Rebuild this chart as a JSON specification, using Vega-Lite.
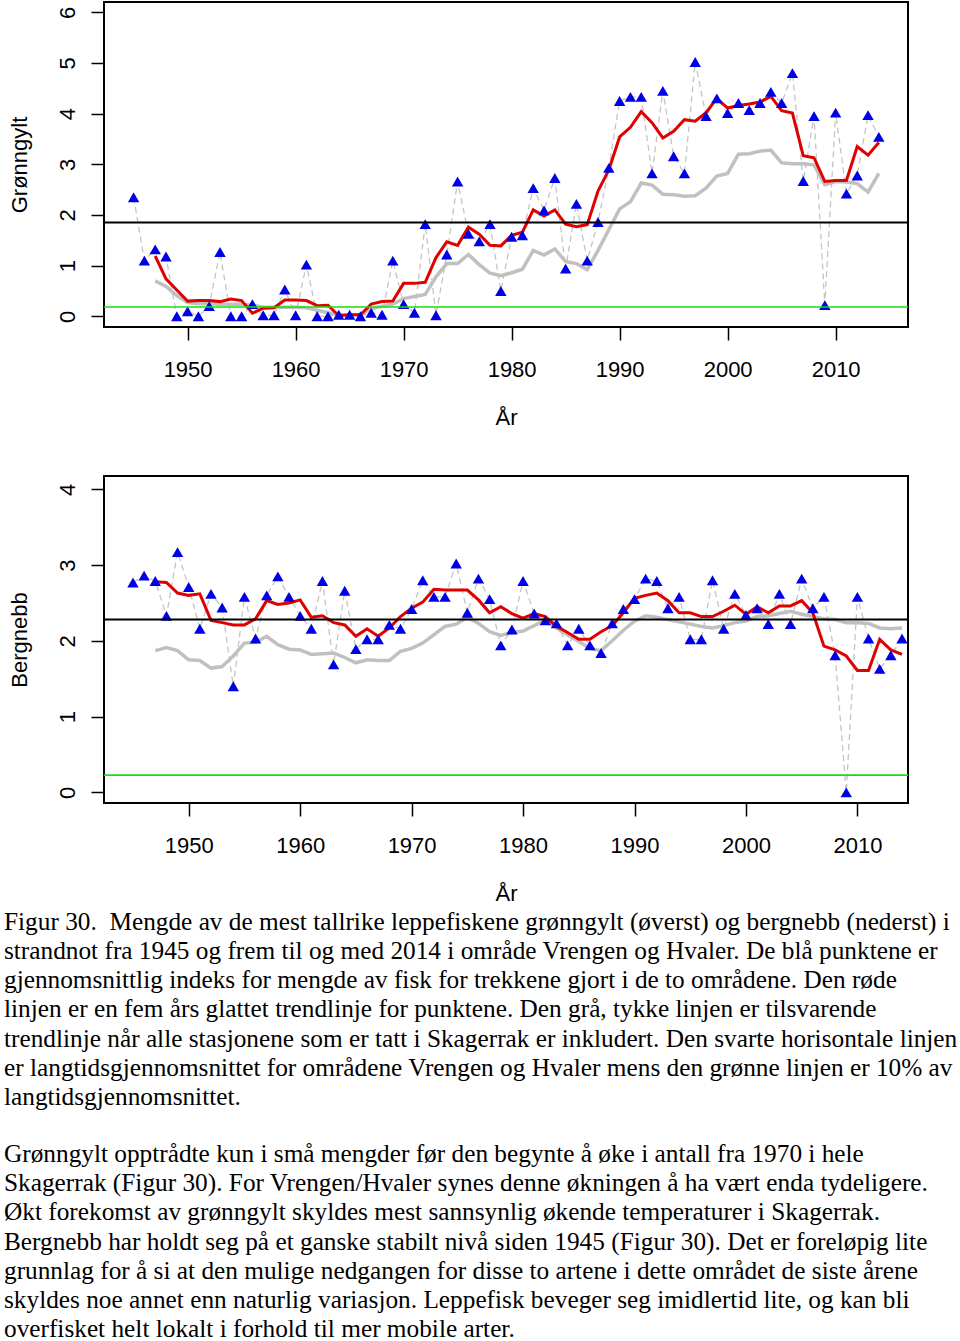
{
  "$schema": "https://vega.github.io/schema/vega-lite/v6.json",
  "background": "white",
  "padding": {"left": 3, "top": 1, "right": 0, "bottom": 0},
  "spacing": 46,
  "title": {
    "text": [
      "Figur 30.\u00a0 Mengde av de mest tallrike leppefiskene grønngylt (øverst) og bergnebb (nederst) i",
      "strandnot fra 1945 og frem til og med 2014 i område Vrengen og Hvaler. De blå punktene er",
      "gjennomsnittlig indeks for mengde av fisk for trekkene gjort i de to områdene. Den røde",
      "linjen er en fem års glattet trendlinje for punktene. Den grå, tykke linjen er tilsvarende",
      "trendlinje når alle stasjonene som er tatt i Skagerrak er inkludert. Den svarte horisontale linjen",
      "er langtidsgjennomsnittet for områdene Vrengen og Hvaler mens den grønne linjen er 10% av",
      "langtidsgjennomsnittet."
    ],
    "subtitle": [
      "Grønngylt opptrådte kun i små mengder før den begynte å øke i antall fra 1970 i hele",
      "Skagerrak (Figur 30). For Vrengen/Hvaler synes denne økningen å ha vært enda tydeligere.",
      "Økt forekomst av grønngylt skyldes mest sannsynlig økende temperaturer i Skagerrak.",
      "Bergnebb har holdt seg på et ganske stabilt nivå siden 1945 (Figur 30). Det er foreløpig lite",
      "grunnlag for å si at den mulige nedgangen for disse to artene i dette området de siste årene",
      "skyldes noe annet enn naturlig variasjon. Leppefisk beveger seg imidlertid lite, og kan bli",
      "overfisket helt lokalt i forhold til mer mobile arter."
    ],
    "orient": "bottom",
    "anchor": "start",
    "frame": "bounds",
    "font": "Liberation Serif",
    "fontSize": 25.3,
    "fontWeight": "normal",
    "color": "black",
    "lineHeight": 29.15,
    "subtitleFont": "Liberation Serif",
    "subtitleFontSize": 25.3,
    "subtitleFontWeight": "normal",
    "subtitleColor": "black",
    "subtitleLineHeight": 29.15,
    "subtitlePadding": 32,
    "offset": 5,
    "dx": -3
  },
  "datasets": {
    "top": [
      {"year": 1945, "value": 2.35, "red": null, "grey": null},
      {"year": 1946, "value": 1.10, "red": null, "grey": null},
      {"year": 1947, "value": 1.32, "red": 1.19, "grey": 0.70},
      {"year": 1948, "value": 1.18, "red": 0.74, "grey": 0.59},
      {"year": 1949, "value": 0.00, "red": 0.52, "grey": 0.41},
      {"year": 1950, "value": 0.10, "red": 0.30, "grey": 0.27},
      {"year": 1951, "value": 0.00, "red": 0.31, "grey": 0.25},
      {"year": 1952, "value": 0.20, "red": 0.31, "grey": 0.25},
      {"year": 1953, "value": 1.27, "red": 0.29, "grey": 0.24},
      {"year": 1954, "value": 0.00, "red": 0.34, "grey": 0.24},
      {"year": 1955, "value": 0.00, "red": 0.31, "grey": 0.24},
      {"year": 1956, "value": 0.24, "red": 0.06, "grey": 0.22},
      {"year": 1957, "value": 0.02, "red": 0.16, "grey": 0.18},
      {"year": 1958, "value": 0.02, "red": 0.17, "grey": 0.18},
      {"year": 1959, "value": 0.53, "red": 0.32, "grey": 0.18},
      {"year": 1960, "value": 0.02, "red": 0.32, "grey": 0.18},
      {"year": 1961, "value": 1.02, "red": 0.31, "grey": 0.17},
      {"year": 1962, "value": 0.00, "red": 0.21, "grey": 0.12},
      {"year": 1963, "value": 0.00, "red": 0.22, "grey": 0.07},
      {"year": 1964, "value": 0.03, "red": 0.01, "grey": 0.03},
      {"year": 1965, "value": 0.03, "red": 0.03, "grey": 0.03},
      {"year": 1966, "value": 0.00, "red": 0.03, "grey": 0.03},
      {"year": 1967, "value": 0.07, "red": 0.24, "grey": 0.15},
      {"year": 1968, "value": 0.03, "red": 0.29, "grey": 0.20},
      {"year": 1969, "value": 1.10, "red": 0.30, "grey": 0.24},
      {"year": 1970, "value": 0.24, "red": 0.65, "grey": 0.35},
      {"year": 1971, "value": 0.07, "red": 0.65, "grey": 0.39},
      {"year": 1972, "value": 1.82, "red": 0.67, "grey": 0.43},
      {"year": 1973, "value": 0.02, "red": 1.16, "grey": 0.78},
      {"year": 1974, "value": 1.22, "red": 1.47, "grey": 1.04},
      {"year": 1975, "value": 2.66, "red": 1.40, "grey": 1.04},
      {"year": 1976, "value": 1.63, "red": 1.76, "grey": 1.22},
      {"year": 1977, "value": 1.48, "red": 1.62, "grey": 1.02},
      {"year": 1978, "value": 1.82, "red": 1.40, "grey": 0.85},
      {"year": 1979, "value": 0.50, "red": 1.39, "grey": 0.80},
      {"year": 1980, "value": 1.57, "red": 1.60, "grey": 0.86},
      {"year": 1981, "value": 1.60, "red": 1.66, "grey": 0.93},
      {"year": 1982, "value": 2.53, "red": 2.10, "grey": 1.30},
      {"year": 1983, "value": 2.09, "red": 1.98, "grey": 1.21},
      {"year": 1984, "value": 2.73, "red": 2.10, "grey": 1.33},
      {"year": 1985, "value": 0.94, "red": 1.82, "grey": 1.08},
      {"year": 1986, "value": 2.22, "red": 1.77, "grey": 1.04},
      {"year": 1987, "value": 1.10, "red": 1.81, "grey": 0.92},
      {"year": 1988, "value": 1.86, "red": 2.47, "grey": 1.30},
      {"year": 1989, "value": 2.93, "red": 2.89, "grey": 1.71},
      {"year": 1990, "value": 4.25, "red": 3.54, "grey": 2.12},
      {"year": 1991, "value": 4.33, "red": 3.73, "grey": 2.26},
      {"year": 1992, "value": 4.33, "red": 4.04, "grey": 2.63},
      {"year": 1993, "value": 2.82, "red": 3.82, "grey": 2.59},
      {"year": 1994, "value": 4.45, "red": 3.52, "grey": 2.41},
      {"year": 1995, "value": 3.16, "red": 3.65, "grey": 2.40},
      {"year": 1996, "value": 2.82, "red": 3.88, "grey": 2.37},
      {"year": 1997, "value": 5.02, "red": 3.85, "grey": 2.38},
      {"year": 1998, "value": 3.95, "red": 4.02, "grey": 2.53},
      {"year": 1999, "value": 4.30, "red": 4.30, "grey": 2.77},
      {"year": 2000, "value": 4.01, "red": 4.11, "grey": 2.82},
      {"year": 2001, "value": 4.21, "red": 4.16, "grey": 3.20},
      {"year": 2002, "value": 4.07, "red": 4.19, "grey": 3.21},
      {"year": 2003, "value": 4.21, "red": 4.23, "grey": 3.26},
      {"year": 2004, "value": 4.43, "red": 4.34, "grey": 3.28},
      {"year": 2005, "value": 4.21, "red": 4.06, "grey": 3.03},
      {"year": 2006, "value": 4.80, "red": 4.01, "grey": 3.01},
      {"year": 2007, "value": 2.67, "red": 3.17, "grey": 3.01},
      {"year": 2008, "value": 3.95, "red": 3.13, "grey": 2.99},
      {"year": 2009, "value": 0.22, "red": 2.66, "grey": 2.60},
      {"year": 2010, "value": 4.02, "red": 2.68, "grey": 2.66},
      {"year": 2011, "value": 2.42, "red": 2.68, "grey": 2.65},
      {"year": 2012, "value": 2.78, "red": 3.35, "grey": 2.62},
      {"year": 2013, "value": 3.97, "red": 3.18, "grey": 2.45},
      {"year": 2014, "value": 3.54, "red": 3.43, "grey": 2.82}
    ],
    "bot": [
      {"year": 1945, "value": 2.77, "red": null, "grey": null},
      {"year": 1946, "value": 2.86, "red": null, "grey": null},
      {"year": 1947, "value": 2.79, "red": 2.78, "grey": 1.87},
      {"year": 1948, "value": 2.33, "red": 2.77, "grey": 1.91},
      {"year": 1949, "value": 3.17, "red": 2.63, "grey": 1.87},
      {"year": 1950, "value": 2.71, "red": 2.60, "grey": 1.75},
      {"year": 1951, "value": 2.16, "red": 2.62, "grey": 1.74},
      {"year": 1952, "value": 2.62, "red": 2.27, "grey": 1.64},
      {"year": 1953, "value": 2.44, "red": 2.24, "grey": 1.66},
      {"year": 1954, "value": 1.40, "red": 2.21, "grey": 1.80},
      {"year": 1955, "value": 2.58, "red": 2.21, "grey": 1.97},
      {"year": 1956, "value": 2.03, "red": 2.29, "grey": 1.98},
      {"year": 1957, "value": 2.60, "red": 2.53, "grey": 2.06},
      {"year": 1958, "value": 2.85, "red": 2.48, "grey": 1.95},
      {"year": 1959, "value": 2.58, "red": 2.50, "grey": 1.89},
      {"year": 1960, "value": 2.33, "red": 2.54, "grey": 1.88},
      {"year": 1961, "value": 2.16, "red": 2.31, "grey": 1.82},
      {"year": 1962, "value": 2.79, "red": 2.33, "grey": 1.83},
      {"year": 1963, "value": 1.69, "red": 2.24, "grey": 1.84},
      {"year": 1964, "value": 2.66, "red": 2.21, "grey": 1.78},
      {"year": 1965, "value": 1.89, "red": 2.06, "grey": 1.71},
      {"year": 1966, "value": 2.02, "red": 2.16, "grey": 1.75},
      {"year": 1967, "value": 2.02, "red": 2.06, "grey": 1.74},
      {"year": 1968, "value": 2.21, "red": 2.17, "grey": 1.74},
      {"year": 1969, "value": 2.16, "red": 2.32, "grey": 1.86},
      {"year": 1970, "value": 2.42, "red": 2.43, "grey": 1.90},
      {"year": 1971, "value": 2.80, "red": 2.51, "grey": 1.97},
      {"year": 1972, "value": 2.58, "red": 2.68, "grey": 2.08},
      {"year": 1973, "value": 2.58, "red": 2.67, "grey": 2.19},
      {"year": 1974, "value": 3.02, "red": 2.67, "grey": 2.22},
      {"year": 1975, "value": 2.37, "red": 2.67, "grey": 2.31},
      {"year": 1976, "value": 2.82, "red": 2.54, "grey": 2.23},
      {"year": 1977, "value": 2.55, "red": 2.37, "grey": 2.12},
      {"year": 1978, "value": 1.94, "red": 2.45, "grey": 2.07},
      {"year": 1979, "value": 2.15, "red": 2.36, "grey": 2.11},
      {"year": 1980, "value": 2.79, "red": 2.30, "grey": 2.13},
      {"year": 1981, "value": 2.36, "red": 2.36, "grey": 2.20},
      {"year": 1982, "value": 2.27, "red": 2.32, "grey": 2.28},
      {"year": 1983, "value": 2.23, "red": 2.19, "grey": 2.17},
      {"year": 1984, "value": 1.94, "red": 2.11, "grey": 2.08},
      {"year": 1985, "value": 2.16, "red": 2.02, "grey": 1.99},
      {"year": 1986, "value": 1.94, "red": 2.02, "grey": 1.90},
      {"year": 1987, "value": 1.84, "red": 2.12, "grey": 1.87},
      {"year": 1988, "value": 2.23, "red": 2.20, "grey": 2.00},
      {"year": 1989, "value": 2.42, "red": 2.37, "grey": 2.14},
      {"year": 1990, "value": 2.55, "red": 2.56, "grey": 2.26},
      {"year": 1991, "value": 2.82, "red": 2.60, "grey": 2.33},
      {"year": 1992, "value": 2.79, "red": 2.63, "grey": 2.31},
      {"year": 1993, "value": 2.43, "red": 2.53, "grey": 2.28},
      {"year": 1994, "value": 2.58, "red": 2.37, "grey": 2.25},
      {"year": 1995, "value": 2.02, "red": 2.37, "grey": 2.22},
      {"year": 1996, "value": 2.02, "red": 2.32, "grey": 2.19},
      {"year": 1997, "value": 2.80, "red": 2.32, "grey": 2.17},
      {"year": 1998, "value": 2.16, "red": 2.39, "grey": 2.20},
      {"year": 1999, "value": 2.62, "red": 2.47, "grey": 2.24},
      {"year": 2000, "value": 2.34, "red": 2.35, "grey": 2.26},
      {"year": 2001, "value": 2.43, "red": 2.45, "grey": 2.32},
      {"year": 2002, "value": 2.22, "red": 2.37, "grey": 2.33},
      {"year": 2003, "value": 2.62, "red": 2.46, "grey": 2.36},
      {"year": 2004, "value": 2.22, "red": 2.46, "grey": 2.39},
      {"year": 2005, "value": 2.82, "red": 2.53, "grey": 2.35},
      {"year": 2006, "value": 2.43, "red": 2.37, "grey": 2.32},
      {"year": 2007, "value": 2.58, "red": 1.93, "grey": 2.29},
      {"year": 2008, "value": 1.81, "red": 1.88, "grey": 2.28},
      {"year": 2009, "value": 0.00, "red": 1.80, "grey": 2.24},
      {"year": 2010, "value": 2.58, "red": 1.61, "grey": 2.24},
      {"year": 2011, "value": 2.03, "red": 1.61, "grey": 2.23},
      {"year": 2012, "value": 1.63, "red": 2.02, "grey": 2.17},
      {"year": 2013, "value": 1.81, "red": 1.88, "grey": 2.16},
      {"year": 2014, "value": 2.03, "red": 1.82, "grey": 2.17}
    ]
  },
  "vconcat": [
    {
      "width": 804,
      "height": 325,
      "data": {"name": "top"},
      "layer": [
        {
          "mark": {"type": "line", "color": "#c4c4c4", "strokeWidth": 1.3, "strokeDash": [6, 4]},
          "encoding": {
            "x": {"field": "year", "type": "quantitative", "scale": {"domain": [1942.26, 2016.7], "nice": false, "zero": false},
                  "axis": {"values": [1950, 1960, 1970, 1980, 1990, 2000, 2010], "format": "d", "title": "År"}},
            "y": {"field": "value", "type": "quantitative", "scale": {"domain": [-0.211, 6.203], "nice": false, "zero": false},
                  "axis": {"values": [0, 1, 2, 3, 4, 5, 6], "title": "Grønngylt"}}
          }
        },
        {
          "mark": {"type": "line", "color": "#c0c0c0", "strokeWidth": 3.5},
          "encoding": {
            "x": {"field": "year", "type": "quantitative", "scale": {"domain": [1942.26, 2016.7], "nice": false, "zero": false},
                  "axis": {"values": [1950, 1960, 1970, 1980, 1990, 2000, 2010], "format": "d", "title": "År"}},
            "y": {"field": "grey", "type": "quantitative", "scale": {"domain": [-0.211, 6.203], "nice": false, "zero": false},
                  "axis": {"values": [0, 1, 2, 3, 4, 5, 6], "title": "Grønngylt"}}
          }
        },
        {
          "mark": {"type": "line", "color": "#e00000", "strokeWidth": 3},
          "encoding": {
            "x": {"field": "year", "type": "quantitative", "scale": {"domain": [1942.26, 2016.7], "nice": false, "zero": false},
                  "axis": {"values": [1950, 1960, 1970, 1980, 1990, 2000, 2010], "format": "d", "title": "År"}},
            "y": {"field": "red", "type": "quantitative", "scale": {"domain": [-0.211, 6.203], "nice": false, "zero": false},
                  "axis": {"values": [0, 1, 2, 3, 4, 5, 6], "title": "Grønngylt"}}
          }
        },
        {
          "mark": {"type": "point", "shape": "triangle-up", "filled": true, "size": 130, "color": "#0000e8", "opacity": 1},
          "encoding": {
            "x": {"field": "year", "type": "quantitative", "scale": {"domain": [1942.26, 2016.7], "nice": false, "zero": false},
                  "axis": {"values": [1950, 1960, 1970, 1980, 1990, 2000, 2010], "format": "d", "title": "År"}},
            "y": {"field": "value", "type": "quantitative", "scale": {"domain": [-0.211, 6.203], "nice": false, "zero": false},
                  "axis": {"values": [0, 1, 2, 3, 4, 5, 6], "title": "Grønngylt"}}
          }
        },
        {
          "data": {"values": [{"level": 1.85}]},
          "mark": {"type": "rule", "color": "black", "strokeWidth": 2},
          "encoding": {
            "y": {"field": "level", "type": "quantitative", "scale": {"domain": [-0.211, 6.203], "nice": false, "zero": false},
                  "axis": {"values": [0, 1, 2, 3, 4, 5, 6], "title": "Grønngylt"}}
          }
        },
        {
          "data": {"values": [{"level": 0.185}]},
          "mark": {"type": "rule", "color": "#10e010", "strokeWidth": 1.6},
          "encoding": {
            "y": {"field": "level", "type": "quantitative", "scale": {"domain": [-0.211, 6.203], "nice": false, "zero": false},
                  "axis": {"values": [0, 1, 2, 3, 4, 5, 6], "title": "Grønngylt"}}
          }
        }
      ]
    },
    {
      "width": 804,
      "height": 327,
      "data": {"name": "bot"},
      "layer": [
        {
          "mark": {"type": "line", "color": "#c4c4c4", "strokeWidth": 1.3, "strokeDash": [6, 4]},
          "encoding": {
            "x": {"field": "year", "type": "quantitative", "scale": {"domain": [1942.4, 2014.54], "nice": false, "zero": false},
                  "axis": {"values": [1950, 1960, 1970, 1980, 1990, 2000, 2010], "format": "d", "title": "År"}},
            "y": {"field": "value", "type": "quantitative", "scale": {"domain": [-0.14, 4.175], "nice": false, "zero": false},
                  "axis": {"values": [0, 1, 2, 3, 4], "title": "Bergnebb"}}
          }
        },
        {
          "mark": {"type": "line", "color": "#c0c0c0", "strokeWidth": 3.5},
          "encoding": {
            "x": {"field": "year", "type": "quantitative", "scale": {"domain": [1942.4, 2014.54], "nice": false, "zero": false},
                  "axis": {"values": [1950, 1960, 1970, 1980, 1990, 2000, 2010], "format": "d", "title": "År"}},
            "y": {"field": "grey", "type": "quantitative", "scale": {"domain": [-0.14, 4.175], "nice": false, "zero": false},
                  "axis": {"values": [0, 1, 2, 3, 4], "title": "Bergnebb"}}
          }
        },
        {
          "mark": {"type": "line", "color": "#e00000", "strokeWidth": 3},
          "encoding": {
            "x": {"field": "year", "type": "quantitative", "scale": {"domain": [1942.4, 2014.54], "nice": false, "zero": false},
                  "axis": {"values": [1950, 1960, 1970, 1980, 1990, 2000, 2010], "format": "d", "title": "År"}},
            "y": {"field": "red", "type": "quantitative", "scale": {"domain": [-0.14, 4.175], "nice": false, "zero": false},
                  "axis": {"values": [0, 1, 2, 3, 4], "title": "Bergnebb"}}
          }
        },
        {
          "mark": {"type": "point", "shape": "triangle-up", "filled": true, "size": 130, "color": "#0000e8", "opacity": 1},
          "encoding": {
            "x": {"field": "year", "type": "quantitative", "scale": {"domain": [1942.4, 2014.54], "nice": false, "zero": false},
                  "axis": {"values": [1950, 1960, 1970, 1980, 1990, 2000, 2010], "format": "d", "title": "År"}},
            "y": {"field": "value", "type": "quantitative", "scale": {"domain": [-0.14, 4.175], "nice": false, "zero": false},
                  "axis": {"values": [0, 1, 2, 3, 4], "title": "Bergnebb"}}
          }
        },
        {
          "data": {"values": [{"level": 2.28}]},
          "mark": {"type": "rule", "color": "black", "strokeWidth": 2},
          "encoding": {
            "y": {"field": "level", "type": "quantitative", "scale": {"domain": [-0.14, 4.175], "nice": false, "zero": false},
                  "axis": {"values": [0, 1, 2, 3, 4], "title": "Bergnebb"}}
          }
        },
        {
          "data": {"values": [{"level": 0.228}]},
          "mark": {"type": "rule", "color": "#10e010", "strokeWidth": 1.6},
          "encoding": {
            "y": {"field": "level", "type": "quantitative", "scale": {"domain": [-0.14, 4.175], "nice": false, "zero": false},
                  "axis": {"values": [0, 1, 2, 3, 4], "title": "Bergnebb"}}
          }
        }
      ]
    }
  ],
  "config": {
    "view": {"stroke": "black", "strokeWidth": 2},
    "axis": {
      "domain": false,
      "grid": false,
      "ticks": true,
      "tickColor": "black",
      "tickWidth": 1.5,
      "tickSize": 13,
      "labelFont": "Liberation Sans",
      "labelFontSize": 22,
      "labelColor": "black",
      "labelFlush": false,
      "labelOverlap": false,
      "titleFont": "Liberation Sans",
      "titleFontSize": 22,
      "titleFontWeight": "normal",
      "titleColor": "black"
    },
    "axisX": {"labelPadding": 19, "titlePadding": 27},
    "axisY": {"labelAngle": -90, "labelAlign": "center", "labelBaseline": "bottom", "labelPadding": 12, "titlePadding": 25}
  }
}
